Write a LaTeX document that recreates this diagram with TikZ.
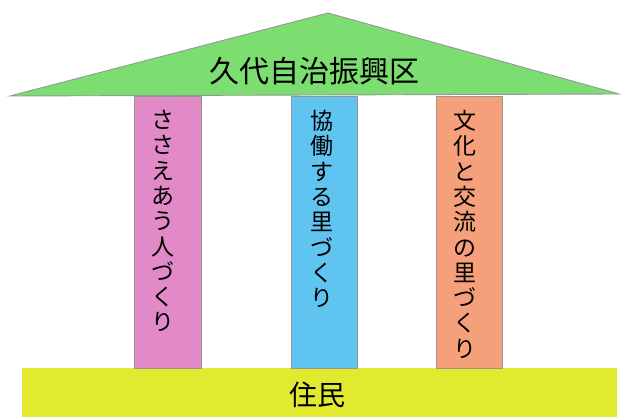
\documentclass[tikz,border=0pt]{standalone}
\usepackage{fontspec}
\newfontfamily\jp{Noto Sans CJK JP}
\definecolor{roofgreen}{RGB}{124,222,112}
\definecolor{pillpink}{RGB}{226,138,200}
\definecolor{pillblue}{RGB}{96,196,240}
\definecolor{pillorange}{RGB}{245,160,122}
\definecolor{baseyellow}{RGB}{226,234,48}
\definecolor{edgegray}{RGB}{150,150,150}
\tikzset{
  pillar/.style={draw=edgegray, line width=0.9pt},
  vtext/.style={inner sep=0pt, anchor=north, align=center, font=\jp\fontsize{23}{25.3}\selectfont},
}
\begin{document}
\begin{tikzpicture}[x=1pt,y=-1pt]
\useasboundingbox (0,0) rectangle (622,417);
\fill[white] (0,0) rectangle (622,417);
% base
\fill[baseyellow] (22,368) rectangle (617,417);
% pillars
\filldraw[pillar, fill=pillpink] (134,96) rectangle (201,368);
\filldraw[pillar, fill=pillblue] (291,96) rectangle (357,368);
\filldraw[pillar, fill=pillorange] (436,96) rectangle (502,368);
% roof
\filldraw[draw=edgegray, line width=0.9pt, fill=roofgreen] (10,96) -- (328,13) -- (619,94) -- cycle;
% texts
\node[inner sep=0pt, font=\jp\fontsize{30}{32}\selectfont] (roof) at (314,71) {久代自治振興区};
\node[vtext] (p1) at (163,110) {さ\\さ\\え\\あ\\う\\人\\づ\\く\\り};
\node[vtext] (p2) at (322,110) {協\\働\\す\\る\\里\\づ\\く\\り};
\node[vtext] (p3) at (465,110) {文\\化\\と\\交\\流\\の\\里\\づ\\く\\り};
\node[inner sep=0pt, font=\jp\fontsize{28}{30}\selectfont] (base) at (317,395) {住民};
\end{tikzpicture}
\end{document}
